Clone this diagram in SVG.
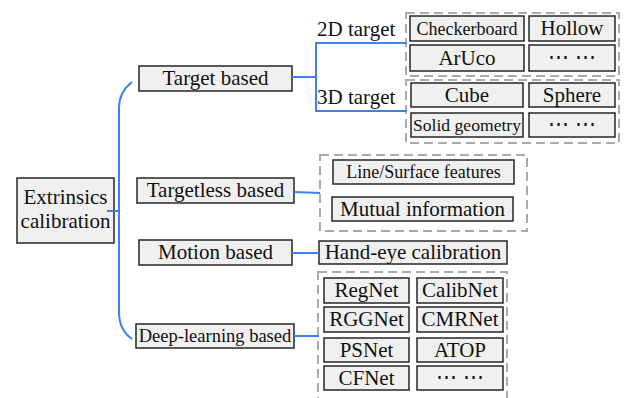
<svg xmlns="http://www.w3.org/2000/svg" width="627" height="398" viewBox="0 0 627 398">
<style>
.box{fill:#f0f0f0;stroke:#262626;stroke-width:1.5}
.grp{fill:none;stroke:#aaaaaa;stroke-width:2;stroke-dasharray:9 5}
.conn{fill:none;stroke:#3f7ef5;stroke-width:2}
text{font-family:"Liberation Serif","DejaVu Serif",serif;font-size:21px;fill:#111;text-anchor:middle}
.sm{font-size:18px}
.lbl{text-anchor:start}
</style>
<rect width="627" height="398" fill="#ffffff"/>
<g id="groups">
<rect class="grp" x="406" y="13" width="213" height="63"/>
<rect class="grp" x="406" y="80" width="213" height="63"/>
<rect class="grp" x="320" y="155" width="207" height="76"/>
<rect class="grp" x="318" y="272" width="189" height="130"/>
</g>
<g id="root"><rect class="box" x="17" y="178" width="97" height="65"/><text x="65.5" y="204">Extrinsics</text><text x="65.5" y="228">calibration</text></g>
<g id="target-based"><rect class="box" x="139" y="66" width="153" height="25"/><text x="215.5" y="85">Target based</text></g>
<g id="targetless-based"><rect class="box" x="137" y="178" width="157" height="25"/><text x="215.5" y="197">Targetless based</text></g>
<g id="motion-based"><rect class="box" x="139" y="240" width="153" height="25"/><text x="215.5" y="259">Motion based</text></g>
<g id="deep-learning-based"><rect class="box" x="136" y="324" width="158" height="24"/><text class="sm" x="215" y="342" style="font-size:18.5px">Deep-learning based</text></g>
<g id="label-2d"><text class="lbl" x="317" y="36">2D target</text></g>
<g id="label-3d"><text class="lbl" x="317" y="104">3D target</text></g>
<g id="checkerboard"><rect class="box" x="410" y="16" width="114" height="25"/><text class="sm" x="467" y="35">Checkerboard</text></g>
<g id="hollow"><rect class="box" x="529" y="16" width="86" height="25"/><text x="572" y="35">Hollow</text></g>
<g id="aruco"><rect class="box" x="410" y="45" width="114" height="26"/><text x="467" y="65">ArUco</text></g>
<g id="etc-2d"><rect class="box" x="529" y="45" width="86" height="26"/><text x="572" y="64">⋯ ⋯</text></g>
<g id="cube"><rect class="box" x="411" y="83" width="112" height="24"/><text x="467" y="102">Cube</text></g>
<g id="sphere"><rect class="box" x="529" y="83" width="86" height="24"/><text x="572" y="102">Sphere</text></g>
<g id="solid-geometry"><rect class="box" x="411" y="113" width="112" height="24"/><text x="467" y="131" style="font-size:17.6px">Solid geometry</text></g>
<g id="etc-3d"><rect class="box" x="529" y="113" width="86" height="24"/><text x="572" y="131">⋯ ⋯</text></g>
<g id="line-surface"><rect class="box" x="333" y="160" width="181" height="24"/><text class="sm" x="423.5" y="178">Line/Surface features</text></g>
<g id="mutual-information"><rect class="box" x="332" y="197" width="181" height="24"/><text x="422.5" y="216">Mutual information</text></g>
<g id="hand-eye"><rect class="box" x="319" y="241" width="188" height="23"/><text x="413" y="259">Hand-eye calibration</text></g>
<g id="regnet"><rect class="box" x="324" y="278" width="85" height="25"/><text x="366.5" y="297">RegNet</text></g>
<g id="calibnet"><rect class="box" x="417" y="278" width="86" height="25"/><text x="460" y="297">CalibNet</text></g>
<g id="rggnet"><rect class="box" x="324" y="307" width="85" height="25"/><text x="366.5" y="326">RGGNet</text></g>
<g id="cmrnet"><rect class="box" x="417" y="307" width="86" height="25"/><text x="460" y="326">CMRNet</text></g>
<g id="psnet"><rect class="box" x="324" y="338" width="85" height="24"/><text x="366.5" y="357">PSNet</text></g>
<g id="atop"><rect class="box" x="417" y="338" width="86" height="24"/><text x="460" y="357">ATOP</text></g>
<g id="cfnet"><rect class="box" x="324" y="366" width="85" height="24"/><text x="366.5" y="385">CFNet</text></g>
<g id="etc-dl"><rect class="box" x="417" y="366" width="86" height="24"/><text x="460" y="384">⋯ ⋯</text></g>
<g id="connectors">
<path class="conn" d="M107 211 H119"/>
<path class="conn" d="M132 82 Q119 92 119 108 V312 Q119 330 132 339"/>
<path class="conn" d="M292 77 H316"/>
<path class="conn" d="M407 43 H316 V111 H407"/>
<path class="conn" d="M294 192 L320 193"/>
<path class="conn" d="M292 253 H319"/>
<path class="conn" d="M294 336 H319"/>
</g>
</svg>
